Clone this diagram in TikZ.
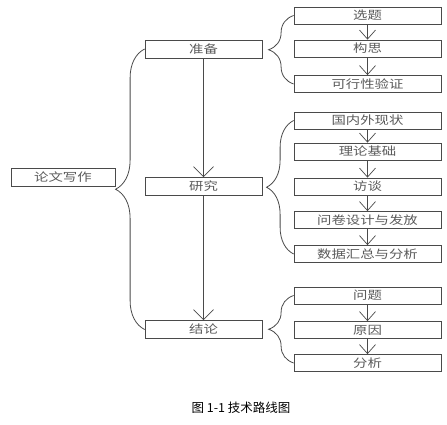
\documentclass[tikz,border=0pt]{standalone}
\usepackage{fontspec}
\newfontfamily\cjk[FakeStretch=1.25]{Noto Sans CJK SC}
\newfontfamily\capfont{Noto Sans CJK SC}
\usepackage{tikz}
\usetikzlibrary{arrows.meta, positioning, decorations.pathreplacing}
\usepackage{xcolor}
\definecolor{boxline}{HTML}{4A4A4A}
\definecolor{boxtext}{HTML}{5A5A5A}

\begin{document}
\begin{tikzpicture}[x=1pt, y=-1pt,
    font=\cjk\fontsize{11.5}{13}\selectfont,
    box/.style={draw=boxline, line width=0.8pt, text=boxtext, inner sep=0pt, minimum height=17pt,
      text height=10pt, text depth=1.2pt, align=center},
    mainbox/.style={box, minimum width=117pt, minimum height=18pt},
    subbox/.style={box, minimum width=147pt},
    bigarr/.style={draw=boxline, line width=0.7pt, -{Straight Barb[length=10pt, width=20pt]}},
    smallarr/.style={draw=boxline, line width=0.7pt, -{Straight Barb[length=9pt, width=16pt]}},
    bracelink/.style={draw=boxline, line width=0.8pt, decorate, decoration={brace, amplitude=#1}}]
    \useasboundingbox (0,0) rectangle (447,425);

    % left side
    \node[box, minimum width=104pt, minimum height=18pt] (lwxz) at (63,177) {论文写作};
    \node[mainbox] (zb) at (203.5,49)    {准备};
    \node[mainbox] (yj) at (203.5,186.5) {研究};
    \node[mainbox] (jl) at (203.5,329.5) {结论};

    % right side
    \node[subbox] (xt) at (367.5,15.5)  {选题};
    \node[subbox] (gs) at (367.5,48.5)  {构思};
    \node[subbox] (kx) at (367.5,84)    {可行性验证};
    \node[subbox] (gn) at (367.5,120.5) {国内外现状};
    \node[subbox] (ll) at (367.5,151.5) {理论基础};
    \node[subbox] (ft) at (367.5,186.5) {访谈};
    \node[subbox] (wj) at (367.5,220)   {问卷设计与发放};
    \node[subbox] (sj) at (367.5,254)   {数据汇总与分析};
    \node[subbox] (wt) at (367.5,295.5) {问题};
    \node[subbox] (yy) at (367.5,330)   {原因};
    \node[subbox] (fx) at (367.5,363)   {分析};

    % braces
    \draw[bracelink=29pt] (jl.west) -- (zb.west);
    \draw[bracelink=25pt] (kx.west) -- (xt.west);
    \draw[bracelink=27pt] (sj.west) -- (gn.west);
    \draw[bracelink=25pt] (fx.west) -- (wt.west);

    % arrows
    \draw[bigarr] (zb) -- (yj);
    \draw[bigarr] (yj) -- (jl);
    \foreach \a/\b in {xt/gs, gs/kx, gn/ll, ll/ft, ft/wj, wj/sj, wt/yy, yy/fx}
      \draw[smallarr] (\a) -- (\b);

    \node[font=\capfont\fontsize{12.5}{14}\selectfont] (cap) at (241,408) {图 1-1 技术路线图};
  \end{tikzpicture}
\end{document}
